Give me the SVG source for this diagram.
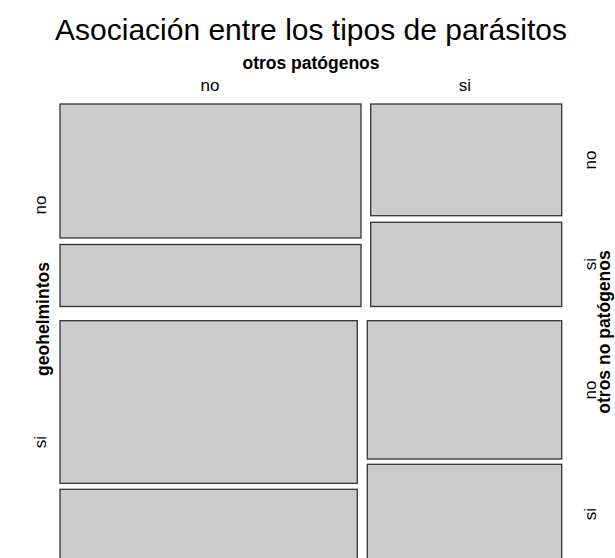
<svg xmlns="http://www.w3.org/2000/svg" width="615" height="558" viewBox="0 0 615 558">
<style>
text{font-family:"Liberation Sans",Arial,Helvetica,sans-serif;fill:#000}
.t{font-size:30px;text-anchor:middle}
.v{font-size:17.5px;font-weight:bold;text-anchor:middle}
.l{font-size:17px;text-anchor:middle}
.box{fill:#cccccc;stroke:#333333;stroke-width:1.3}
</style>
<rect width="615" height="558" fill="#ffffff"/>
<text class="t" x="311" y="40">Asociación entre los tipos de parásitos</text>
<g id="labels-top">
<text class="v" x="311" y="69">otros patógenos</text>
<text class="l" x="210" y="91">no</text>
<text class="l" x="465" y="91">si</text>
</g>
<g id="labels-left">
<text class="v" transform="translate(49,319) rotate(-90)">geohelmintos</text>
<text class="l" transform="translate(46,205) rotate(-90)">no</text>
<text class="l" transform="translate(46,442) rotate(-90)">si</text>
</g>
<g id="labels-right">
<text class="l" transform="translate(596,160) rotate(-90)">no</text>
<text class="l" transform="translate(596,264) rotate(-90)">si</text>
<text class="l" transform="translate(596,390) rotate(-90)">no</text>
<text class="l" transform="translate(596,514) rotate(-90)">si</text>
<text class="v" transform="translate(610,332) rotate(-90)">otros no patógenos</text>
</g>
<g id="cell-no-no-no"><rect class="box" x="60" y="104" width="301" height="134"/></g>
<g id="cell-no-no-si"><rect class="box" x="60" y="244.5" width="301" height="62"/></g>
<g id="cell-no-si-no"><rect class="box" x="370.7" y="104" width="191" height="111.7"/></g>
<g id="cell-no-si-si"><rect class="box" x="370.7" y="222.3" width="191" height="84.2"/></g>
<g id="cell-si-no-no"><rect class="box" x="60" y="320.7" width="297.3" height="162.6"/></g>
<g id="cell-si-no-si"><rect class="box" x="60" y="489.3" width="297.3" height="80"/></g>
<g id="cell-si-si-no"><rect class="box" x="367.3" y="320.7" width="194.4" height="138.3"/></g>
<g id="cell-si-si-si"><rect class="box" x="367.3" y="464.3" width="194.4" height="105"/></g>
</svg>
